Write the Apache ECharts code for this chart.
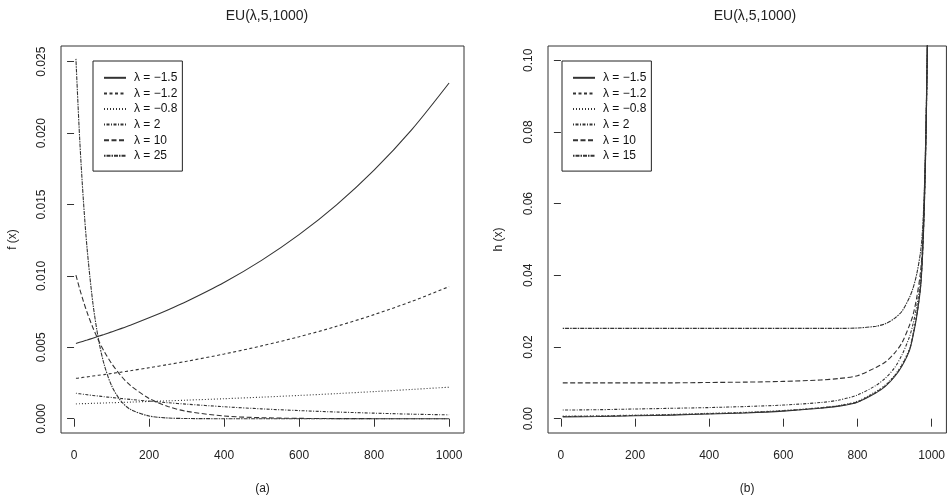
<!DOCTYPE html>
<html>
<head>
<meta charset="utf-8">
<script src="https://cdn.jsdelivr.net/npm/echarts@6/dist/echarts.min.js"></script>
<style>
  html, body { margin: 0; padding: 0; background: #fff; }
  #main { width: 948px; height: 500px; }
</style>
</head>
<body>
<div id="main"></div>
<script>
// panel (a): density f(x)
const leftX = [5, 15, 25, 35, 50, 65, 80, 100, 125, 150, 200, 250, 300, 400, 500, 600, 700, 800, 900, 1000];
const fNeg15 = [0.00527, 0.00535, 0.00543, 0.00551, 0.00564, 0.00577, 0.00590, 0.00608, 0.00631, 0.00655, 0.00707, 0.00762, 0.00821, 0.00954, 0.01109, 0.01289, 0.01498, 0.01741, 0.02023, 0.02351];
const fNeg12 = [0.00283, 0.00286, 0.00290, 0.00293, 0.00299, 0.00304, 0.00309, 0.00317, 0.00326, 0.00336, 0.00357, 0.00379, 0.00402, 0.00453, 0.00510, 0.00574, 0.00647, 0.00729, 0.00821, 0.00925];
const fNeg08 = [0.00104, 0.00105, 0.00106, 0.00106, 0.00108, 0.00109, 0.00110, 0.00112, 0.00114, 0.00116, 0.00121, 0.00125, 0.00130, 0.00140, 0.00151, 0.00163, 0.00176, 0.00190, 0.00205, 0.00221];
const f2 = [0.00178, 0.00175, 0.00171, 0.00168, 0.00163, 0.00159, 0.00154, 0.00149, 0.00142, 0.00135, 0.00123, 0.00112, 0.00102, 0.00084, 0.00069, 0.00057, 0.00047, 0.00039, 0.00032, 0.00027];
const f10 = [0.01005, 0.00909, 0.00822, 0.00743, 0.00639, 0.00550, 0.00473, 0.00387, 0.00301, 0.00234, 0.00142, 0.00086, 0.00052, 0.00019, 0.00007, 0.000025, 0.000009, 0.000003, 0.000001, 0];
const f25 = [0.0252, 0.0196, 0.01525, 0.01186, 0.00814, 0.00558, 0.00383, 0.00232, 0.00124, 0.00066, 0.00019, 0.00005, 0.000015, 0.000001, 0, 0, 0, 0, 0, 0];

// panel (b): hazard h(x)
const rightX = [5, 100, 200, 300, 400, 500, 600, 700, 750, 800, 850, 875, 900, 920, 940, 950, 960, 970, 975, 980, 985, 990, 995];
const hNeg15 = [0.0005, 0.0006, 0.0008, 0.0010, 0.0013, 0.0016, 0.0021, 0.0029, 0.0035, 0.0046, 0.0072, 0.0090, 0.0117, 0.0147, 0.0190, 0.0232, 0.0287, 0.0365, 0.0445, 0.058, 0.080, 0.118, 0.24];
const hNeg12 = [0.0006, 0.0007, 0.0009, 0.0011, 0.0014, 0.0017, 0.0022, 0.0030, 0.0036, 0.0047, 0.0074, 0.0092, 0.0119, 0.0149, 0.0192, 0.0235, 0.0290, 0.0368, 0.0448, 0.0585, 0.0805, 0.118, 0.24];
const hNeg08 = [0.0007, 0.0008, 0.0010, 0.0012, 0.0015, 0.0018, 0.0023, 0.0031, 0.0037, 0.0049, 0.0076, 0.0094, 0.0121, 0.0152, 0.0195, 0.0238, 0.0293, 0.0371, 0.0451, 0.059, 0.081, 0.119, 0.24];
const h2 = [0.0024, 0.0025, 0.0027, 0.0029, 0.0031, 0.0034, 0.0038, 0.0045, 0.0052, 0.0066, 0.0093, 0.0113, 0.0142, 0.0178, 0.0228, 0.0265, 0.0315, 0.0388, 0.0460, 0.060, 0.082, 0.120, 0.24];
const h10 = [0.0100, 0.0100, 0.0100, 0.0100, 0.0101, 0.0102, 0.0104, 0.0108, 0.0112, 0.0120, 0.0143, 0.0158, 0.0183, 0.0212, 0.0260, 0.0290, 0.0340, 0.0410, 0.0480, 0.062, 0.083, 0.121, 0.24];
const h15 = [0.0252, 0.0252, 0.0252, 0.0252, 0.0252, 0.0252, 0.0252, 0.0252, 0.0252, 0.0253, 0.0258, 0.0265, 0.0280, 0.0300, 0.0338, 0.0365, 0.0405, 0.0465, 0.052, 0.063, 0.084, 0.121, 0.24];

const xTicks = [0, 200, 400, 600, 800, 1000];
const fTicks = [0, 0.005, 0.01, 0.015, 0.02, 0.025];
const hTicks = [0, 0.02, 0.04, 0.06, 0.08, 0.1];

const leftNames = ['λ = −1.5', 'λ = −1.2', 'λ = −0.8', 'λ = 2', 'λ = 10', 'λ = 25'];
const rightNames = ['λ = −1.5', 'λ = −1.2', 'λ = −0.8', 'λ = 2', 'λ = 10', 'λ = 15'];

// R line types: solid, dashed, dotted, dotdash, longdash, twodash
const dashes = ['solid', [3, 2.5], [1, 2], [1, 1.5, 3, 1.5], [5, 2.5], [1.5, 1, 4, 1]];

const FONT = 'Liberation Sans, Arial, sans-serif';
const INK = '#222';

function zip(xs, ys) {
  return xs.map((x, i) => [x, ys[i]]);
}

function makeSeries(names, xs, lists, idx) {
  return lists.map((ys, i) => ({
    name: names[i],
    type: 'line',
    xAxisIndex: idx,
    yAxisIndex: idx,
    data: zip(xs, ys),
    symbol: 'none',
    smooth: 0.3,
    clip: true,
    lineStyle: { color: '#333', width: 1.1, type: dashes[i] },
    itemStyle: { color: '#333' }
  }));
}

function xAxisFor(idx, name) {
  return {
    type: 'value', gridIndex: idx, min: -34.8, max: 1039.8,
    name: name, nameLocation: 'middle', nameGap: 50,
    nameTextStyle: { color: INK, fontSize: 12, fontFamily: FONT },
    axisLine: { show: false },
    splitLine: { show: false },
    axisTick: { show: true, inside: false, length: 8, customValues: xTicks, lineStyle: { color: '#333' } },
    axisLabel: { customValues: xTicks, margin: 17, color: INK, fontSize: 12, fontFamily: FONT,
      formatter: v => String(v) }
  };
}

function yAxisFor(idx, name, min, max, ticks, digits, gap) {
  return {
    type: 'value', gridIndex: idx, min: min, max: max,
    name: name, nameLocation: 'middle', nameGap: gap, nameRotate: 90,
    nameTextStyle: { color: INK, fontSize: 12, fontFamily: FONT },
    axisLine: { show: false },
    splitLine: { show: false },
    axisTick: { show: true, inside: false, length: 7, customValues: ticks, lineStyle: { color: '#333' } },
    axisLabel: {
      customValues: ticks, rotate: 90, margin: 13, color: INK, fontSize: 12, fontFamily: FONT,
      formatter: v => v.toFixed(digits)
    }
  };
}

function legendFor(left, names) {
  return {
    orient: 'vertical', left: left, top: 61,
    data: names,
    selectedMode: false,
    itemWidth: 22, itemHeight: 10, itemGap: 0,
    padding: [9, 5, 7.5, 10],
    borderColor: '#222', borderWidth: 1,
    itemStyle: { opacity: 0 },
    textStyle: { color: '#111', fontSize: 12, fontFamily: FONT, lineHeight: 15.6, padding: [0, 0, 0, 3] }
  };
}

const option = {
  animation: false,
  backgroundColor: '#fff',
  title: [
    { text: 'EU(λ,5,1000)', left: 262, top: 4, textAlign: 'center',
      textStyle: { fontSize: 14, fontWeight: 'normal', color: INK, fontFamily: FONT } },
    { text: 'EU(λ,5,1000)', left: 750, top: 4, textAlign: 'center',
      textStyle: { fontSize: 14, fontWeight: 'normal', color: INK, fontFamily: FONT } }
  ],
  grid: [
    { left: 61, top: 46, width: 403, height: 388, show: true, borderColor: '#333', borderWidth: 1, backgroundColor: 'transparent' },
    { left: 548, top: 46, width: 403, height: 388, show: true, borderColor: '#333', borderWidth: 1, backgroundColor: 'transparent' }
  ],
  xAxis: [xAxisFor(0, '(a)'), xAxisFor(1, '(b)')],
  yAxis: [
    yAxisFor(0, 'f (x)', -0.001, 0.0261, fTicks, 3, 42),
    yAxisFor(1, 'h (x)', -0.004, 0.104, hTicks, 2, 43)
  ],
  legend: [legendFor(93, leftNames), legendFor(562, rightNames)],
  series: [
    ...makeSeries(leftNames, leftX, [fNeg15, fNeg12, fNeg08, f2, f10, f25], 0),
    ...makeSeries(rightNames, rightX, [hNeg15, hNeg12, hNeg08, h2, h10, h15], 1)
  ]
};

const chart = echarts.init(document.getElementById('main'));
chart.setOption(option);
</script>
</body>
</html>
